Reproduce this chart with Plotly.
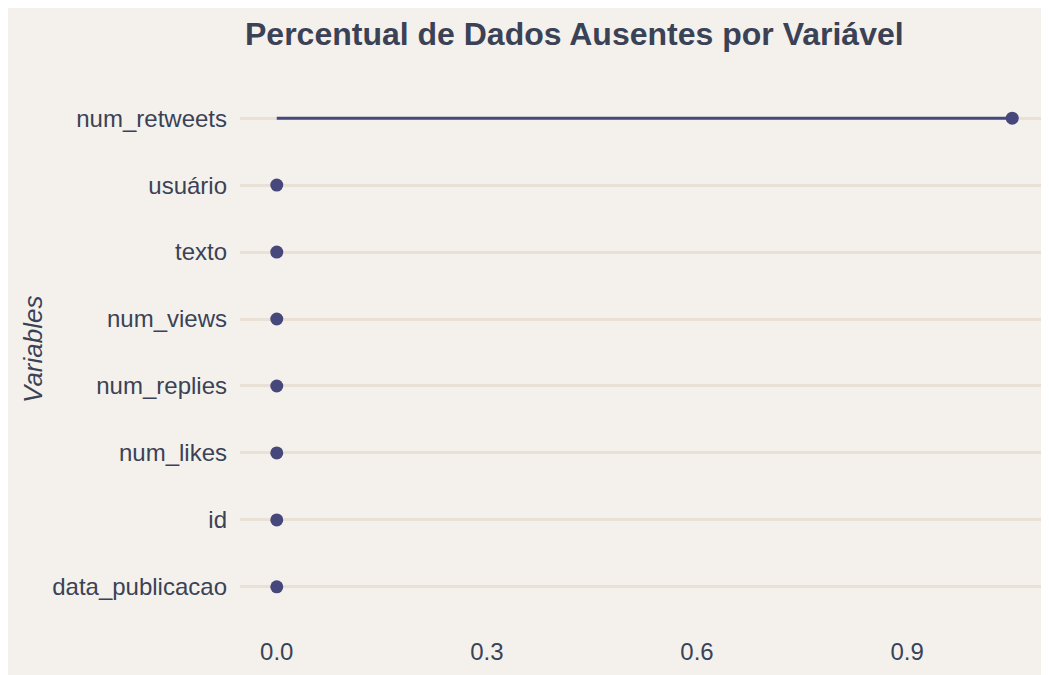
import plotly.graph_objects as go

variables = ["data_publicacao", "id", "num_likes", "num_replies", "num_views", "texto", "usuário", "num_retweets"]
pct_missing = [0.0, 0.0, 0.0, 0.0, 0.0, 0.0, 0.0, 1.05]
x_ticks = [0.0, 0.3, 0.6, 0.9]
x_tick_labels = ["0.0", "0.3", "0.6", "0.9"]

BG = "#F4F1EC"
GRID = "#E9E0D6"
DOT = "#46477A"
TEXT = "#3B4256"

W, H = 1049, 675
ml, mr, mt, mb = 232, 8, 70, 56
pw, ph = W - ml - mr, H - mt - mb

def px_to_paper_x(px):
    return (px - ml) / pw

def px_to_paper_y(py):
    return 1 - (py - mt) / ph

seg_x, seg_y = [], []
for v, p in zip(variables, pct_missing):
    seg_x += [0, p, None]
    seg_y += [v, v, None]

fig = go.Figure()
fig.add_trace(go.Scatter(x=seg_x, y=seg_y, mode="lines",
                         line=dict(color=DOT, width=3), hoverinfo="skip", showlegend=False))
fig.add_trace(go.Scatter(x=pct_missing, y=variables, mode="markers",
                         marker=dict(color=DOT, size=13), showlegend=False))

fig.add_annotation(text="<b>Percentual de Dados Ausentes por Variável</b>",
                   xref="paper", yref="paper", x=px_to_paper_x(566), y=px_to_paper_y(26),
                   xanchor="center", yanchor="middle", showarrow=False,
                   font=dict(family="Liberation Sans, Arial, sans-serif", size=32, color=TEXT))

fig.add_annotation(text="<i>Variables</i>", textangle=-90,
                   xref="paper", yref="paper", x=px_to_paper_x(25), y=px_to_paper_y(342),
                   xanchor="center", yanchor="middle", showarrow=False,
                   font=dict(family="Liberation Sans, Arial, sans-serif", size=26, color=TEXT))

fig.update_layout(
    width=W, height=H,
    margin=dict(l=ml, r=mr, t=mt, b=mb, pad=0),
    paper_bgcolor=BG,
    plot_bgcolor=BG,
    font=dict(family="Liberation Sans, Arial, sans-serif", color=TEXT),
    xaxis=dict(range=[-0.0525, 1.1025], tickvals=x_ticks, ticktext=x_tick_labels,
               showgrid=False, zeroline=False, showline=False, ticks="",
               tickfont=dict(size=24, color=TEXT), ticklabelstandoff=8),
    yaxis=dict(type="category", categoryorder="array", categoryarray=variables,
               range=[-0.6, 7.6], showgrid=True, gridcolor=GRID, gridwidth=3,
               zeroline=False, showline=False, ticks="",
               tickfont=dict(size=24, color=TEXT), ticklabelstandoff=12),
)

fig.write_html("out.html")
